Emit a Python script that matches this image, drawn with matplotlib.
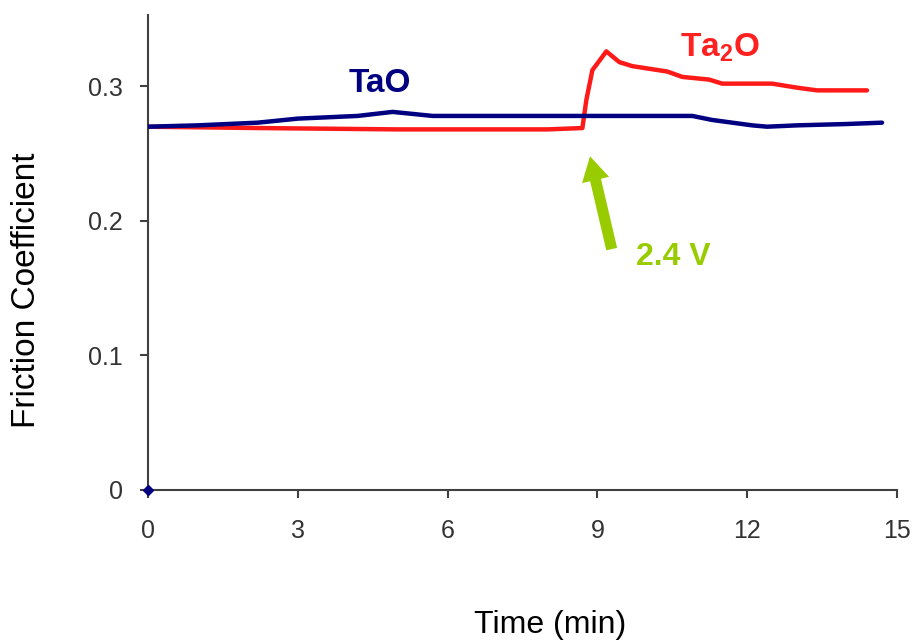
import matplotlib
matplotlib.use("Agg")
import matplotlib.pyplot as plt

plt.rcParams['font.family'] = ['Liberation Sans', 'DejaVu Sans']
plt.rcParams['mathtext.fontset'] = 'custom'
plt.rcParams['mathtext.rm'] = 'Liberation Sans'
plt.rcParams['mathtext.bf'] = 'Liberation Sans:bold'

# TaO (blue) curve
tao_t = [0.0, 1.0, 2.2, 3.0, 4.2, 4.9, 5.7, 7.0, 9.0, 10.9, 11.3, 12.1, 12.4, 13.0, 14.0, 14.7]
tao_mu = [0.270, 0.271, 0.273, 0.276, 0.278, 0.281, 0.278, 0.278, 0.278, 0.278, 0.275, 0.271, 0.270, 0.271, 0.272, 0.273]

# Ta2O (red) curve
ta2o_t = [0.0, 2.2, 5.0, 8.0, 8.7, 8.78, 8.9, 9.18, 9.44, 9.7, 10.4, 10.7, 11.24, 11.5, 12.5, 13.0, 13.4, 14.4]
ta2o_mu = [0.270, 0.269, 0.268, 0.268, 0.269, 0.290, 0.312, 0.326, 0.318, 0.315, 0.311, 0.307, 0.305, 0.302, 0.302, 0.299, 0.297, 0.297]

x_ticks = [0, 3, 6, 9, 12, 15]
y_ticks = [0, 0.1, 0.2, 0.3]
y_tick_labels = ["0", "0.1", "0.2", "0.3"]

fig = plt.figure(figsize=(9.15, 6.42), dpi=100)
ax = fig.add_axes([0.1617, 0.2368, 0.8186, 0.7398])

ax.plot(tao_t, tao_mu, color="#000080", lw=3.2, solid_capstyle="round", zorder=3)
ax.plot(ta2o_t, ta2o_mu, color="#ff1a1a", lw=3.2, solid_capstyle="round", zorder=2)
ax.plot([0], [0], marker="D", color="#000080", ms=5, clip_on=False, zorder=5)

ax.set_xlim(0, 15)
ax.set_ylim(0, 0.353)
ax.set_xticks(x_ticks)
ax.set_yticks(y_ticks)
ax.set_yticklabels(y_tick_labels)

for s in ["top", "right"]:
    ax.spines[s].set_visible(False)
for s in ["left", "bottom"]:
    ax.spines[s].set_color("#404040")
    ax.spines[s].set_linewidth(1.5)
ax.tick_params(axis="both", colors="#404040", width=1.5, length=6,
               labelsize=18, labelcolor="#333333")
ax.tick_params(axis="x", pad=15)
ax.tick_params(axis="y", pad=12)

fig.text(27 / 915, 1 - 290 / 642, "Friction Coefficient", fontsize=24,
         rotation=90, ha="center", va="center")
fig.text(550 / 915, 1 - 633 / 642, "Time (min)", fontsize=23,
         ha="center", va="baseline")

ax.text(4.64, 0.296, "TaO", color="#000080", fontsize=24, fontweight="bold",
        ha="center", va="baseline")
ax.text(11.46, 0.322, r"$\mathbf{Ta_2O}$", color="#ff2020", fontsize=24,
        ha="center", va="baseline")
ax.annotate("", xy=(8.84, 0.250), xytext=(9.3, 0.177),
            arrowprops=dict(arrowstyle="simple,head_width=2.0,head_length=1.75,tail_width=0.8",
                            color="#99cc00", lw=0))
ax.text(9.78, 0.167, "2.4 V", color="#99cc00", fontsize=23, fontweight="bold",
        ha="left", va="baseline")

fig.savefig("out.png", dpi=100)
